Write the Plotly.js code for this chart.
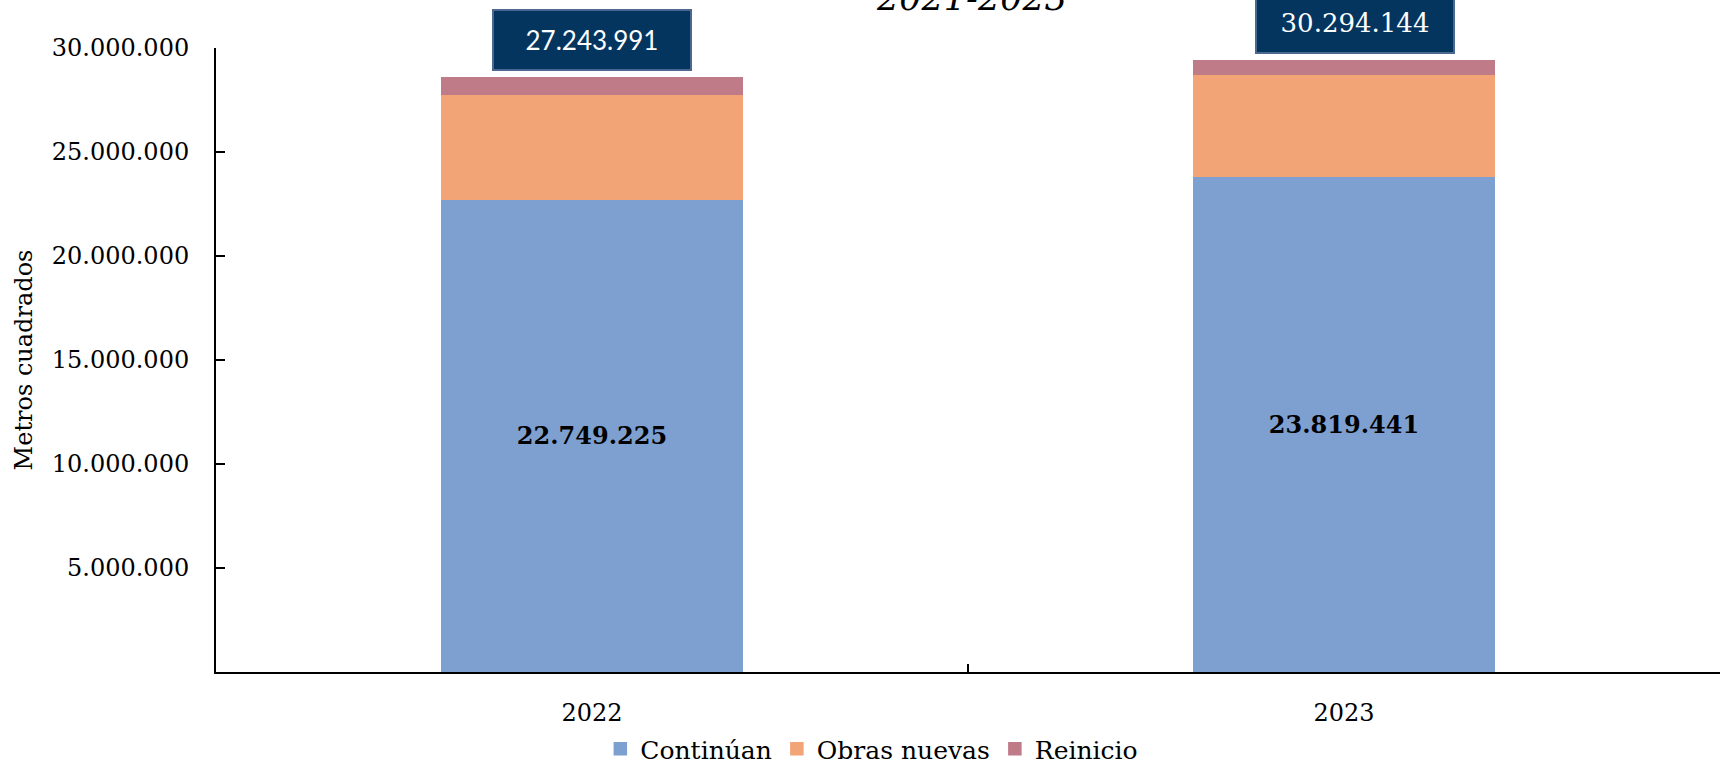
<!DOCTYPE html>
<html>
<head>
<meta charset="utf-8">
<script src="https://cdn.plot.ly/plotly-3.0.1.min.js"></script>
<style>
  html, body { margin: 0; padding: 0; background: #ffffff; }
  #chart { width: 1723px; height: 772px; }
</style>
</head>
<body>
<div id="chart"></div>
<script>
// ---- data ----
const categories = ['2022', '2023'];
const continuan = [22749225, 23819441];
const obrasNuevas = [5006000, 4940000];
const reinicio = [800000, 630000];
const totalLabels = ['27.243.991', '30.294.144'];
const seriesNames = ['Continúan', 'Obras nuevas', 'Reinicio'];
const yTickVals = [5000000, 10000000, 15000000, 20000000, 25000000, 30000000];
const titleText = '2021-2023';

// ---- styles ----
const colors = ['#7EA0D0', '#F2A477', '#BF7B88'];
const serif = 'DejaVu Serif, Liberation Serif, serif';

const traces = [
  {
    type: 'bar', name: seriesNames[0], x: categories, y: continuan,
    marker: { color: colors[0], line: { color: colors[0], width: 1.5 } },
    texttemplate: '<b>%{y:,d}</b>', textposition: 'inside', insidetextanchor: 'middle',
    textfont: { family: serif, size: 24, color: '#000000' },
    constraintext: 'none', hoverinfo: 'skip'
  },
  {
    type: 'bar', name: seriesNames[1], x: categories, y: obrasNuevas,
    marker: { color: colors[1], line: { color: colors[1], width: 1.5 } }, hoverinfo: 'skip'
  },
  {
    type: 'bar', name: seriesNames[2], x: categories, y: reinicio,
    marker: { color: colors[2], line: { color: colors[2], width: 1.5 } }, hoverinfo: 'skip'
  }
];

const totals = categories.map((c, i) => continuan[i] + obrasNuevas[i] + reinicio[i]);
const boxFonts = ['Lato, Noto Sans, sans-serif', serif];
const boxShift = [0, 11];

const annotations = categories.map((c, i) => ({
  x: i, xref: 'x', y: totals[i], yref: 'y',
  yanchor: 'bottom', xanchor: 'center', yshift: 7, xshift: boxShift[i],
  text: totalLabels[i], showarrow: false,
  font: { family: boxFonts[i], size: 26, color: '#ffffff' },
  bgcolor: '#04355F', bordercolor: '#4A6890', borderwidth: 2, borderpad: 0,
  width: 196, height: 58
}));

annotations.push({
  x: 0.502, xref: 'paper', y: 1.045, yref: 'paper', yanchor: 'bottom', xanchor: 'center',
  text: '<i>' + titleText + '</i>', showarrow: false,
  font: { family: serif, size: 35, color: '#000000' }
});

const layout = {
  width: 1723, height: 772,
  margin: { l: 216, r: 3, t: 48, b: 100, pad: 0, autoexpand: false },
  paper_bgcolor: '#ffffff', plot_bgcolor: '#ffffff',
  barmode: 'stack', bargap: 0.6,
  separators: ',.',
  showlegend: true,
  legend: {
    orientation: 'h', xref: 'container', yref: 'container',
    x: 0.506, xanchor: 'center', y: 0, yanchor: 'bottom',
    font: { family: serif, size: 25, color: '#000000' },
    traceorder: 'normal'
  },
  xaxis: {
    type: 'category', range: [-0.5, 1.5],
    showline: true, linecolor: '#000000', linewidth: 2,
    ticks: 'inside', tickson: 'boundaries', ticklen: 8, tickwidth: 2, tickcolor: '#000000',
    tickfont: { family: serif, size: 24, color: '#000000' },
    ticklabelstandoff: 18,
    showgrid: false, zeroline: false, fixedrange: true
  },
  yaxis: {
    range: [0, 30000000],
    tickvals: yTickVals, tickformat: ',d',
    showline: true, linecolor: '#000000', linewidth: 2,
    ticks: 'inside', ticklen: 9, tickwidth: 2, tickcolor: '#000000',
    tickfont: { family: serif, size: 24, color: '#000000' },
    ticklabelstandoff: 20,
    showgrid: false, zeroline: false, fixedrange: true,
    title: { text: 'Metros cuadrados', font: { family: serif, size: 24, color: '#000000' }, standoff: 12 }
  },
  annotations: annotations,
  font: { family: serif, color: '#000000' }
};

Plotly.newPlot('chart', traces, layout, { staticPlot: true, displayModeBar: false });
</script>
</body>
</html>
